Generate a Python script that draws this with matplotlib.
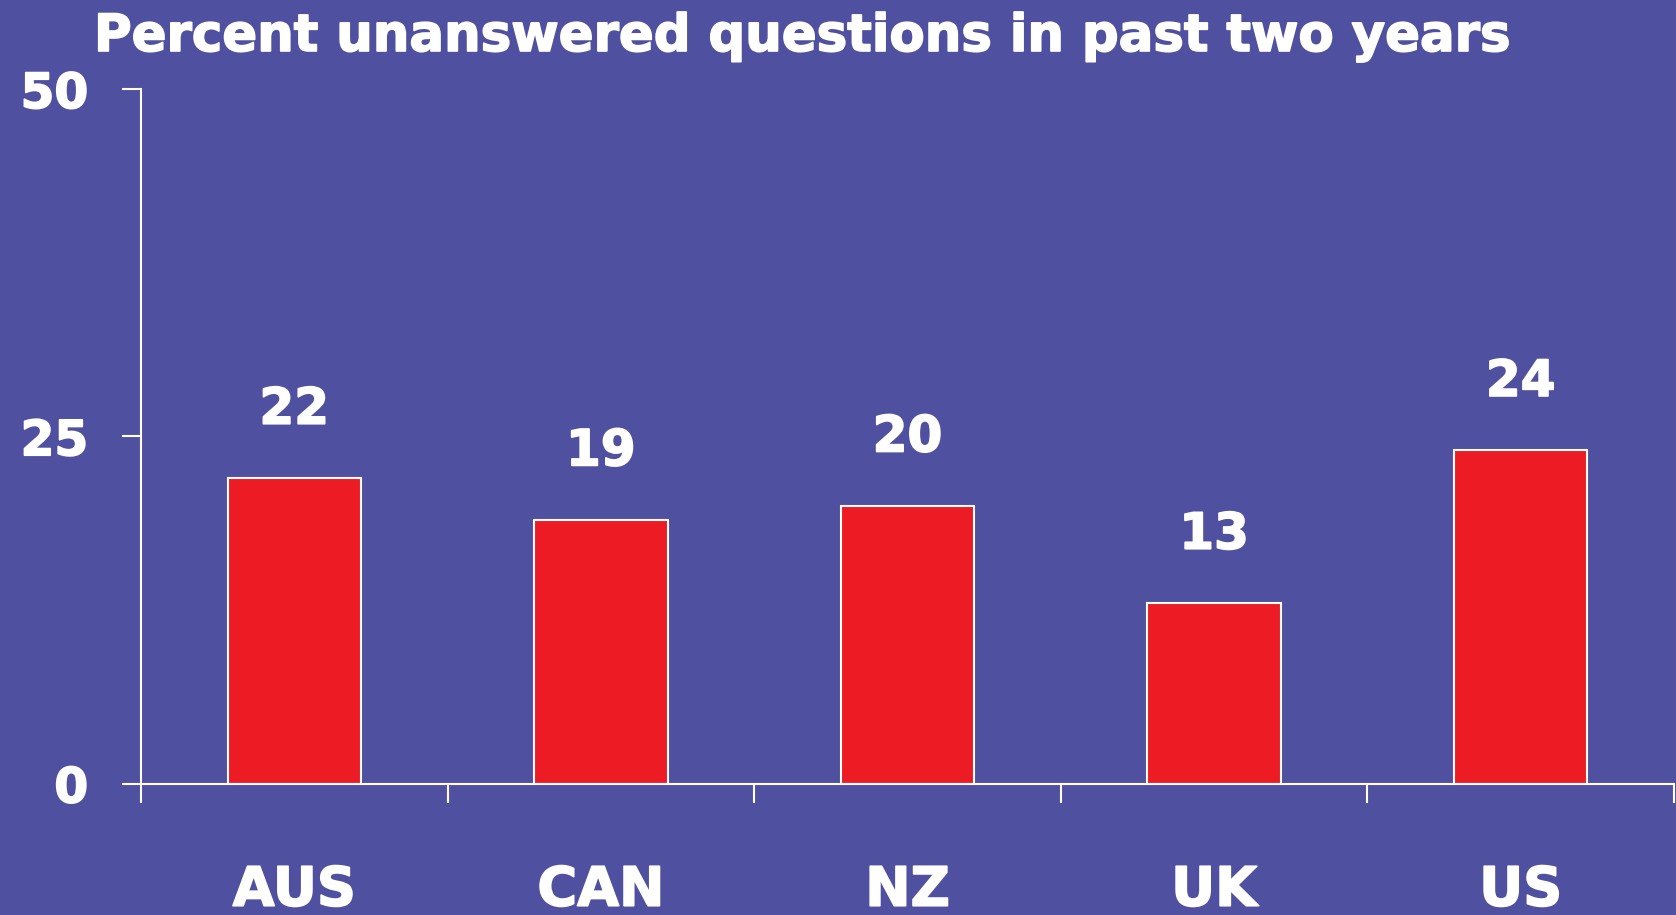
import numpy as np
import matplotlib
matplotlib.use("Agg")
import matplotlib.pyplot as plt
import matplotlib.patheffects as pe

# data
countries = ["AUS", "CAN", "NZ", "UK", "US"]
pct_unanswered = [22, 19, 20, 13, 24]
y_ticks = [0, 25, 50]

bg = "#5050A0"
bar_red = "#ED1C24"

plt.rcParams['font.family'] = ['DejaVu Sans']
plt.rcParams['font.weight'] = 'bold'

fig = plt.figure(figsize=(16.76, 9.15), dpi=100, facecolor=bg)
ax = fig.add_axes([141 / 1676, 1 - 783.5 / 915, 1533 / 1676, (783.5 - 89) / 915])
ax.set_facecolor(bg)

x = np.arange(len(countries))
ax.bar(x, pct_unanswered, width=0.435, color=bar_red, edgecolor="white", linewidth=1.5)

heavy = [pe.withStroke(linewidth=1.2, foreground="white")]

# value labels, baseline ~54 px above bar top
for xi, v in zip(x, pct_unanswered):
    ax.annotate(str(v), (xi, v), xytext=(0, 39), textcoords="offset points",
                ha="center", va="baseline", color="white", fontsize=36,
                fontweight="bold", path_effects=heavy)

# category labels, baseline near the bottom edge
for xi, c in zip(x, countries):
    ax.annotate(c, (xi, 0), xytext=(0, -88), textcoords="offset points",
                ha="center", va="baseline", color="white", fontsize=39,
                fontweight="bold", annotation_clip=False, path_effects=heavy)

ax.set_xlim(-0.5, len(countries) - 0.5)
ax.set_ylim(0, 50)
ax.set_xticks(np.arange(len(countries) + 1) - 0.5)
ax.set_xticklabels([])
ax.set_yticks(y_ticks)
ax.set_yticklabels([str(t) for t in y_ticks], fontsize=35, fontweight="bold",
                   color="white", path_effects=heavy)
ax.tick_params(axis="both", direction="out", length=14, width=1.5, color="white")
ax.tick_params(axis="y", pad=24)

for s in ["top", "right"]:
    ax.spines[s].set_visible(False)
for s in ["left", "bottom"]:
    ax.spines[s].set_color("white")
    ax.spines[s].set_linewidth(1.5)

fig.text(94 / 1676, 1 - 37 / 915, "Percent unanswered questions in past two years",
         ha="left", va="center", color="white", fontsize=37, fontweight="bold",
         path_effects=heavy)

fig.savefig("out.png", dpi=100, facecolor=bg)
